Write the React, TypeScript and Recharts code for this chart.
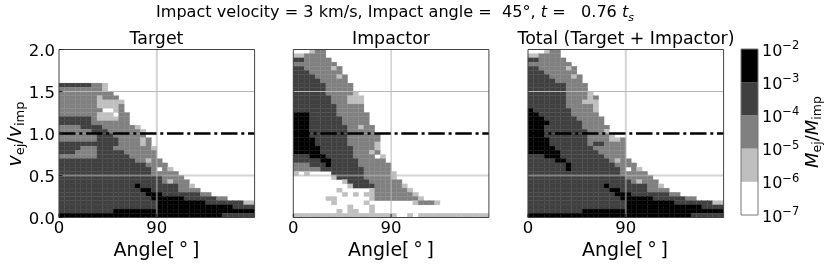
import React from 'react';
import {
  BarChart, Bar, ScatterChart, Scatter, XAxis, YAxis, ReferenceLine, ReferenceArea,
} from 'recharts';

// cell levels per row, top row first (v = 2.0 down to 0.0), "level*count" runs, the rest is empty
const targetRows = [
  '', '', '', '', '', '', '', '',
  '3*6 2*2 1', '2*8 1', '2*10', '2*7 1 2*3', '2*7 1*5', '2*7 1*4 2',
  '2*8 0*2 1 2', '2*7 1*3 0 2*2', '3*6 2 1*4 2*2', '3*6 2*7', '2*4 3*4 2*6 1', '2*6 3*3 2*6 1',
  '2*7 3*3 2*6', '2*7 3*4 2*4 1 2', '3*11 2*4 1 2', '3*4 2*3 3*3 2*7 1', '3*3 2*4 3*5 2*6',
  '2*7 3*6 2*5', '3*14 2*2 1 2*2', '3*16 2*4', '3*17 2 0 2 1', '3*17 2*5',
  '3*19 2*4', '3*19 2 1 2*3', '3*14 4 3*7 2*2 1', '3*15 4*2 3*5 2*4', '3*16 4*3 3*7 2*2',
  '3*17 4*6 3*6 2*2', '3*18 4*9 3*7 1*2', '3*18 4*14 3*4', '3*10 4*26', '4*30 3*6',
];
const impactorRows = [
  '0*3 1 2*2', '1*2 2*4', '3*2 2*5', '2*8', '3*2 2*5 1 2', '3*3 2*6', '3*4 2*4 1 2', '3*5 2*5',
  '3*6 2*5', '3*6 2*5', '3*6 2*5 1', '3*7 2*3 1*3', '3*7 2*3 1*3', '3*8 2*5', '3*8 2*5',
  '4*3 3*5 2*6', '4*3 3*6 2*5', '4*3 3*6 2*5', '4*3 3*7 2*2 1 2*2', '4*3 3*7 2*5',
  '4*3 3*7 2*6', '4*4 3*6 2*6', '4*4 3*6 2*5 1', '4*5 3*6 2*4 1', '4*5 3*6 2*3 1 2',
  '3*3 4*3 3*5 2*4 0 1', '3*5 4*2 3*5 2*5', '2*3 3*3 4 3*5 2*6', '2*5 3*8 2*5', '1 0 1 0*4 3*6 2*5 1',
  '0*7 1 3*5 2*5 1', '0*9 1 3*4 2*6', '0*10 1 3*4 2*5 1', '0*8 1 0*5 1 2*6 1', '0*9 1 0 1 0 1*2 2*7 1',
  '0*6 1*2 0*6 1 2*8 1', '0*7 1 0*5 1 0*8 1 2*3 1', '0*10 1 0*3 1', '0*8 1 0 1*2 0*2 1', '1*19 0*2 1 0 1*13',
];
const totalRows = [
  '0*3 1 2*2', '1*2 2*4', '3*2 2*5', '2*8', '3*2 2*5 1 2', '3*3 2*6', '3*4 2*4 1 2', '3*5 2*5',
  '3*7 2*4', '3*7 2*4', '3*7 2*4 1', '3*7 2*4 1 2', '3*7 2*3 1*3', '3*7 2*5 1', '4 3*7 2*4 1',
  '4*2 3*6 2*5', '4*3 3*6 2*5', '4*4 3*6 2*4', '4*3 3*7 2*5', '4*3 3*8 2*3 1',
  '4*3 3*8 2*4 1', '4*4 3*7 2*4 1*2 2', '4*4 3*7 2 3*2 2*4', '4*5 3*7 2*6', '4*6 3*7 2*5',
  '3*3 4*3 3*8 2*4', '3*5 4*2 3*8 2 1 2*2', '3*7 4 3*8 2*4', '3*7 4 3*9 2 0 2 1', '3*17 2*5',
  '3*18 2*5', '3*19 2 1 2*3', '3*14 4 3*7 2*2 1', '3*15 4*2 3*5 2*4', '3*16 4*3 3*7 2*2',
  '3*17 4*6 3*6 2*2', '3*18 4*9 3*7 1*2', '3*18 4*14 3*4', '3*10 4*26', '4*30 3*6',
];

const levelColors = ['#ffffff', '#bfbfbf', '#808080', '#404040', '#000000'];
const angleTicks = [0, 90];
const velocityTicks = [0, 0.5, 1, 1.5, 2];
const barExponents = [-7, -6, -5, -4, -3, -2];
const barRow = [{ name: 'bar', b0: 1, b1: 1, b2: 1, b3: 1, b4: 1 }];
const FONT = '"DejaVu Sans", sans-serif';
const PLOT_W = 195.6;
const PLOT_H = 168;
const ANGLE_STEP = 5;
const VEL_STEP = 0.05;
const TOP_LAYER = 900;
const thinGrid = { stroke: '#b8b8b8', strokeWidth: 1 };
const softGrid = { stroke: '#b0b0b0', strokeWidth: 2, strokeOpacity: 0.55 };

function toCells(rows: string[]) {
  const cells: { angle: number; vel: number; level: number }[] = [];
  rows.forEach((row, r) => {
    let c = 0;
    row.split(' ').filter(Boolean).forEach((run) => {
      const [level, count] = run.split('*').map(Number);
      for (let i = 0; i < (count || 1); i++) {
        if (level > 0) {
          cells.push({ angle: (c + 0.5) * ANGLE_STEP, vel: 2 - (r + 0.5) * VEL_STEP, level });
        }
        c++;
      }
    });
  });
  return cells;
}

const CellRect = (p: any) => {
  const w = PLOT_W / 36;
  const h = PLOT_H / 40;
  const fill = levelColors[p.payload.level];
  return <rect x={p.cx - w / 2} y={p.cy - h / 2} width={w} height={h} fill={fill} stroke={fill} strokeWidth={0.3} />;
};

const XTick = ({ x, y, payload }: any) => (
  <g>
    <line x1={x} x2={x} y1={y - 3.5} y2={y} stroke="#222" strokeWidth={1} />
    <text x={x} y={y + 15} textAnchor="middle" fontSize={16.5} fontFamily={FONT} fill="#000">{payload.value}</text>
  </g>
);

const YTick = ({ x, y, payload, showLabel }: any) => (
  <g>
    <line x1={x} x2={x + 3.5} y1={y} y2={y} stroke="#222" strokeWidth={1} />
    {showLabel && (
      <text x={x - 4} y={y + 6} textAnchor="end" fontSize={16.5} fontFamily={FONT} fill="#000">
        {payload.value.toFixed(1)}
      </text>
    )}
  </g>
);

const BarTick = ({ x, y, payload }: any) => (
  <text x={x + 4} y={y + 6.5} fontSize={16} fontFamily={FONT} fill="#000">
    10<tspan dy={-6.5} fontSize={11.5}>{'\u2212' + -barExponents[payload.value]}</tspan>
  </text>
);

function Panel({ rows, left, width, marginLeft, showY, midGrid }: any) {
  return (
    <div style={{ position: 'absolute', left, top: 0 }}>
      <ScatterChart
        width={width}
        height={266}
        margin={{ top: 49.5, bottom: 0, left: showY ? 0 : marginLeft, right: width - marginLeft - PLOT_W }}
      >
        <XAxis
          type="number"
          dataKey="angle"
          domain={[0, 180]}
          ticks={angleTicks}
          height={48.5}
          axisLine={false}
          tickLine={false}
          tickSize={0}
          tickMargin={0}
          tick={<XTick />}
          interval={0}
        />
        <YAxis
          type="number"
          dataKey="vel"
          domain={[0, 2]}
          ticks={velocityTicks}
          width={showY ? marginLeft : 0}
          axisLine={false}
          tickLine={false}
          tickSize={0}
          tickMargin={0}
          tick={<YTick showLabel={showY} />}
          interval={0}
        />
        <Scatter data={toCells(rows)} shape={CellRect} isAnimationActive={false} />
        <ReferenceLine x={90} {...midGrid} zIndex={TOP_LAYER} />
        <ReferenceLine y={0.5} {...softGrid} zIndex={TOP_LAYER} />
        <ReferenceLine y={1.5} {...thinGrid} zIndex={TOP_LAYER} />
        <ReferenceLine y={1} stroke="#000" strokeWidth={2.7} strokeDasharray="16.5 3.8 3 3.7" zIndex={TOP_LAYER} />
        <ReferenceArea x1={0} x2={180} y1={0} y2={2} fill="none" stroke="#444" strokeWidth={1} zIndex={TOP_LAYER} />
      </ScatterChart>
    </div>
  );
}

function ColorBar() {
  return (
    <div style={{ position: 'absolute', left: 730, top: 0 }}>
      <BarChart width={100} height={266} data={barRow} barCategoryGap={0} margin={{ top: 49, bottom: 51, left: 11, right: 0 }}>
        <XAxis dataKey="name" hide />
        <YAxis
          orientation="right"
          type="number"
          domain={[0, 5]}
          ticks={[0, 1, 2, 3, 4, 5]}
          width={72}
          axisLine={false}
          tickLine={false}
          tickSize={0}
          tickMargin={0}
          tick={<BarTick />}
          interval={0}
        />
        {levelColors.map((color, i) => (
          <Bar key={i} dataKey={'b' + i} stackId="levels" fill={color} isAnimationActive={false} />
        ))}
        <ReferenceArea y1={0} y2={5} fill="none" stroke="#777" strokeWidth={1} zIndex={TOP_LAYER} />
      </BarChart>
    </div>
  );
}

const titleStyle = (left: number, top: number, size: number, line = 20): React.CSSProperties => ({
  position: 'absolute',
  left,
  top,
  width: 0,
  display: 'flex',
  justifyContent: 'center',
  whiteSpace: 'pre',
  fontFamily: FONT,
  fontSize: size,
  lineHeight: line + 'px',
  color: '#000',
});

export default function App() {
  return (
    <div style={{ position: 'absolute', left: 0, top: 0, width: 830, height: 266, background: '#fff', overflow: 'hidden', filter: 'blur(0.35px)' }}>
      <div style={titleStyle(395, 2, 16.1)}>
        <span>
          Impact velocity = 3 km/s, Impact angle =  45°, <i>t</i> =   0.76 <i>t</i>
          <sub style={{ fontSize: 11, lineHeight: 0 }}><i>s</i></sub>
        </span>
      </div>
      <div style={titleStyle(156.5, 27.5, 17.4)}>Target</div>
      <div style={titleStyle(391, 27.5, 17.4)}>Impactor</div>
      <div style={titleStyle(626, 27.5, 17.4)}>Total (Target + Impactor)</div>

      <Panel rows={targetRows} left={0} width={270} marginLeft={59} showY midGrid={softGrid} />
      <Panel rows={impactorRows} left={280} width={220} marginLeft={13.3} midGrid={thinGrid} />
      <Panel rows={totalRows} left={510} width={225} marginLeft={18} midGrid={softGrid} />
      <ColorBar />

      {[156.5, 391, 625].map((x) => (
        <div key={x} style={titleStyle(x, 241, 19, 16)}>{'Angle[\u2009°\u2009]'}</div>
      ))}

      <svg width={830} height={266} style={{ position: 'absolute', left: 0, top: 0, pointerEvents: 'none' }}>
        <text transform="translate(21,134) rotate(-90)" textAnchor="middle" fontFamily={FONT} fontSize={19}>
          <tspan fontStyle="italic">v</tspan>
          <tspan fontSize={13} dy={3}>ej</tspan>
          <tspan dy={-3}>/</tspan>
          <tspan fontStyle="italic">v</tspan>
          <tspan fontSize={13} dy={3}>imp</tspan>
        </text>
        <text transform="translate(818,132) rotate(-90)" textAnchor="middle" fontFamily={FONT} fontSize={18}>
          <tspan fontStyle="italic">M</tspan>
          <tspan fontSize={12.5} dy={3}>ej</tspan>
          <tspan dy={-3}>/</tspan>
          <tspan fontStyle="italic">M</tspan>
          <tspan fontSize={12.5} dy={3}>imp</tspan>
        </text>
      </svg>
    </div>
  );
}
